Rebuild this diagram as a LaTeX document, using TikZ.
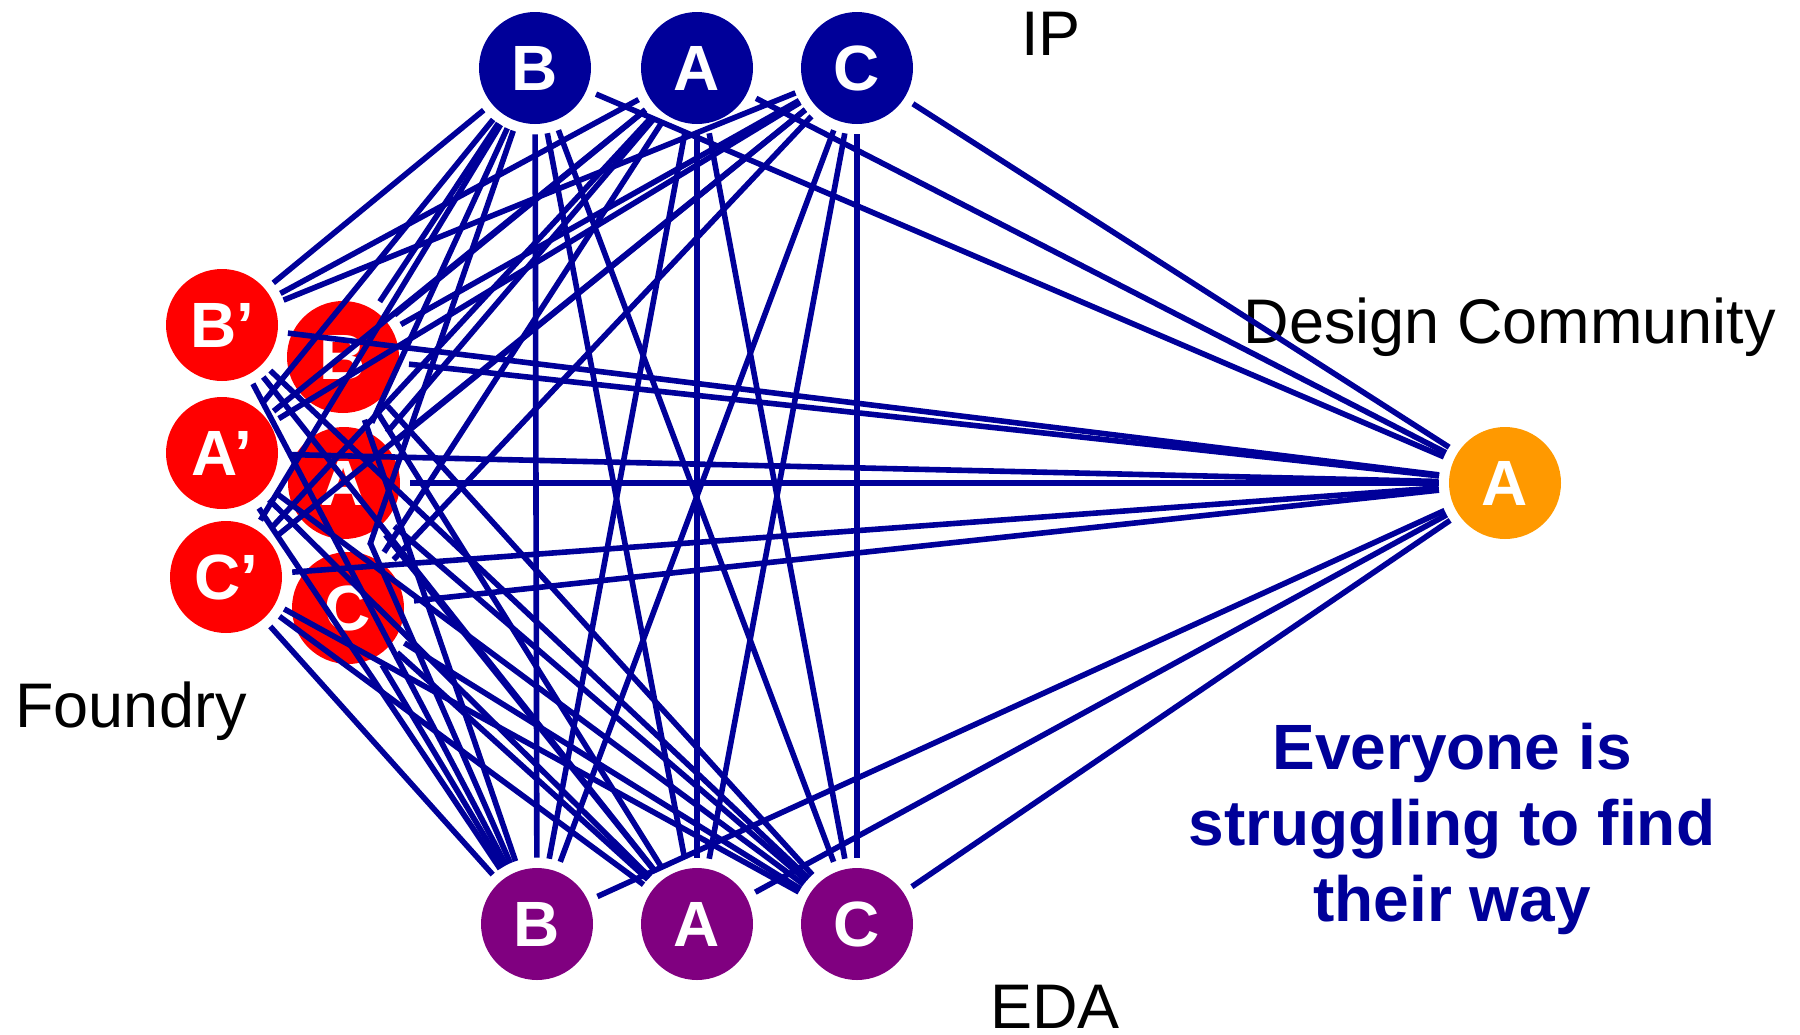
\documentclass[tikz,border=0pt]{standalone}
\usepackage{fontspec}
\setmainfont{Liberation Sans}
\definecolor{linkblue}{RGB}{0,0,153}
\definecolor{edapurple}{RGB}{128,0,128}
\definecolor{designorange}{RGB}{255,153,0}
\definecolor{foundryred}{RGB}{255,0,0}
\tikzset{
  player/.style={circle, minimum size=56pt, inner sep=0pt, text=white,
    font=\fontsize{32}{36}\selectfont\bfseries},
  link/.style={draw=linkblue, line width=2.8pt, shorten <=5pt, shorten >=5pt},
  lbl/.style={anchor=base, inner sep=0pt, font=\fontsize{31.5}{38}\selectfont}
}
\begin{document}
\begin{tikzpicture}[x=0.5pt, y=-0.5pt]
    \useasboundingbox (0,0) rectangle (1800,1034);
    % IP
    \node [player, fill=linkblue] (ipB) at (535,68) {B};
    \node [player, fill=linkblue] (ipA) at (697,68) {A};
    \node [player, fill=linkblue] (ipC) at (857,68) {C};
    % EDA
    \node [player, fill=edapurple] (edaB) at (537,924) {B};
    \node [player, fill=edapurple] (edaA) at (697,924) {A};
    \node [player, fill=edapurple] (edaC) at (857,924) {C};
    % foundry
    \node [player, fill=foundryred] (fBp) at (222,325) {B'};
    \node [player, fill=foundryred] (fAp) at (222,453) {A'};
    \node [player, fill=foundryred] (fCp) at (226,577) {C'};
    \node [player, fill=foundryred] (fB) at (343,357) {B};
    \node [player, fill=foundryred] (fA) at (344,483) {A};
    \node [player, fill=foundryred] (fC) at (348,608) {C};
    % design community
    \node [player, fill=designorange] (dA) at (1505,483) {A};
    \node [lbl] (ip) at (1051,55) {IP};
    \node [lbl] (eda) at (1055,1028) {EDA};
    \node [lbl] (foundry) at (131,727) {Foundry};
    \node [lbl] (design) at (1510,343) {Design Community};
    \node [lbl, text=linkblue, align=center, font=\fontsize{32}{38}\selectfont\bfseries]
      (msg) at (1452,921) {Everyone is\\struggling to find\\their way};
    % links
    \draw [link] (ipB) edge (edaB) edge (edaA) edge (edaC) edge (dA);
    \draw [link] (ipA) edge (edaB) edge (edaA) edge (edaC) edge (dA);
    \draw [link] (ipC) edge (edaB) edge (edaA) edge (edaC) edge (dA);
    \draw [link] (edaB) edge (dA);
    \draw [link] (edaA) edge (dA);
    \draw [link] (edaC) edge (dA);
    \draw [link] (fBp) edge (ipB) edge (ipA) edge (ipC) edge (edaB) edge (edaA) edge (edaC) edge (dA);
    \draw [link] (fAp) edge (ipB) edge (ipA) edge (ipC) edge (edaB) edge (edaA) edge (edaC) edge (dA);
    \draw [link] (fCp) edge (ipB) edge (ipA) edge (ipC) edge (edaB) edge (edaA) edge (edaC) edge (dA);
    \draw [link] (fB) edge (ipB) edge (ipA) edge (ipC) edge (edaB) edge (edaA) edge (edaC) edge (dA);
    \draw [link] (fA) edge (ipB) edge (ipA) edge (ipC) edge (edaB) edge (edaA) edge (edaC) edge (dA);
    \draw [link] (fC) edge (ipB) edge (ipA) edge (ipC) edge (edaB) edge (edaA) edge (edaC) edge (dA);
\end{tikzpicture}
\end{document}
